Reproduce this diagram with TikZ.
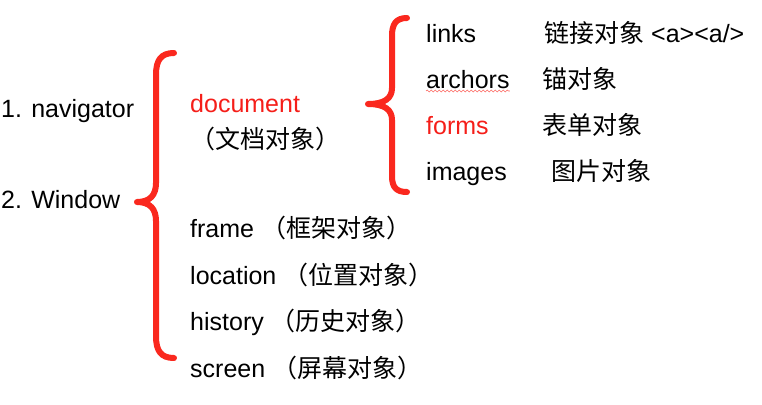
\documentclass[tikz,border=0pt]{standalone}
\usepackage{fontspec}
\setmainfont{Liberation Sans}
\newfontfamily\cjk{Noto Sans CJK SC}
\usetikzlibrary{decorations.pathmorphing}
\definecolor{bracered}{RGB}{250,40,30}
\definecolor{txtred}{RGB}{245,30,25}
\begin{document}
\begin{tikzpicture}[x=1pt,y=-1pt,
  lbl/.style={anchor=base west,inner sep=0pt,font=\fontsize{25}{30}\selectfont},
  redlbl/.style={lbl,text=txtred},
  brace/.style={draw=bracered,line width=6pt,line cap=round,line join=round}]
\useasboundingbox (0,0) rectangle (762,404);
% left column
\node[lbl] (nav) at (1,117) {1. navigator};
\node[lbl] (win) at (1,208) {2. Window};
% big brace
\draw[brace] (174,53) .. controls (161,53) and (156,60) .. (156,75) -- (156,183)
  .. controls (156,195) and (150,202) .. (137,202)
  .. controls (150,202) and (156,209) .. (156,221) -- (156,336)
  .. controls (156,351) and (161,358) .. (174,358);
% middle column
\node[redlbl] (doc) at (190,112) {document};
\node[lbl] (docz) at (190,148) {{\cjk （文档对象）}};
\node[lbl] (frame) at (190,237) {frame {\cjk （框架对象）}};
\node[lbl] (loc) at (190,284) {location {\cjk （位置对象）}};
\node[lbl] (hist) at (190,330) {history {\cjk （历史对象）}};
\node[lbl] (scr) at (190,377) {screen {\cjk （屏幕对象）}};
% small brace
\draw[brace] (407,18) .. controls (396,18) and (392,24) .. (392,36) -- (392,88)
  .. controls (392,98) and (385,104) .. (368,104)
  .. controls (385,104) and (392,110) .. (392,120) -- (392,176)
  .. controls (392,187) and (396,192) .. (407,192);
% right column
\node[lbl] (links) at (426,42) {links};
\node[lbl] (arch) at (426,88) {archors};
\node[redlbl] (forms) at (426,134) {forms};
\node[lbl] (imgs) at (426,180) {images};
\node[lbl] (linksz) at (544,42) {{\cjk 链接对象} <a><a/>};
\node[lbl] (archz) at (542,88) {{\cjk 锚对象}};
\node[lbl] (formsz) at (542,134) {{\cjk 表单对象}};
\node[lbl] (imgsz) at (551,180) {{\cjk 图片对象}};
% spell-check wavy underline
\draw[draw=bracered!70,line width=0.6pt,decorate,decoration={snake,amplitude=0.9pt,segment length=4pt}]
  ([yshift=-3pt]arch.base west) -- ([yshift=-3pt]arch.base east);
\end{tikzpicture}
\end{document}
